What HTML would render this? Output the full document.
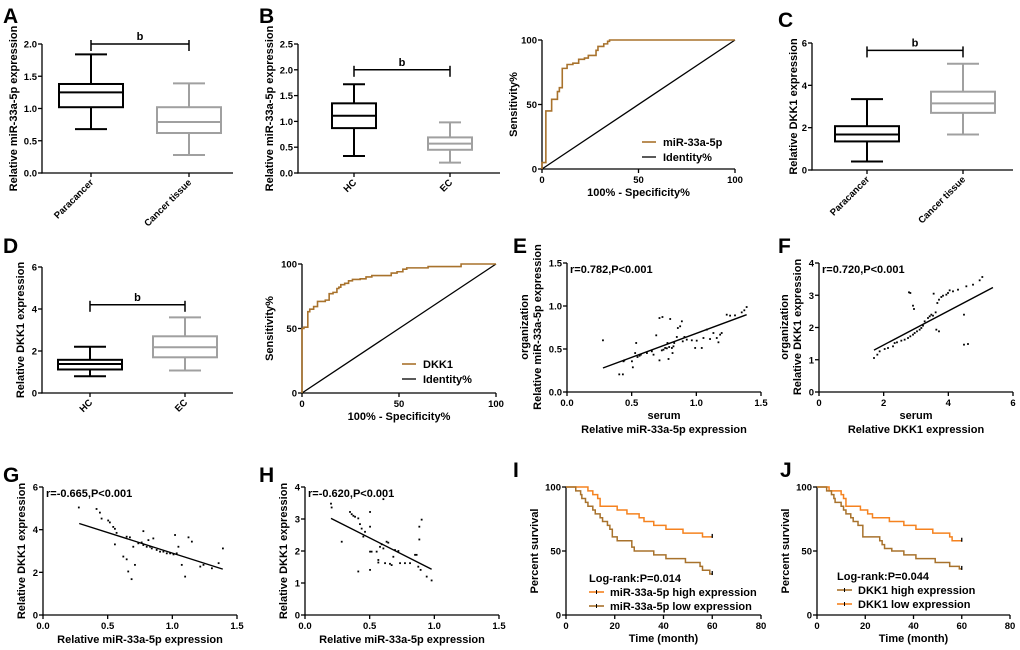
<!DOCTYPE html>
<html><head><meta charset="utf-8">
<style>
html,body{margin:0;padding:0;background:#fff;}
svg{display:block;font-family:"Liberation Sans",Arial,sans-serif;font-weight:bold;}
</style></head>
<body>
<svg id="fig" width="1020" height="650" viewBox="0 0 1020 650" xmlns="http://www.w3.org/2000/svg"></svg>
<script>
// ---------- DATA ----------
// A
const aCats = ['Paracancer','Cancer tissue'];
const aMin = [0.68, 0.28], aQ1 = [1.02, 0.62], aMed = [1.25, 0.79], aQ3 = [1.38, 1.02], aMax = [1.84, 1.39];
// B box
const bCats = ['HC','EC'];
const bMin = [0.33, 0.20], bQ1 = [0.87, 0.45], bMed = [1.11, 0.57], bQ3 = [1.35, 0.69], bMax = [1.72, 0.98];
// B ROC
const rocBX = [0,0,2,2,5,5,8,8,9,9,10.5,10.5,13,13,16,16,19,19,22,22,24,24,28,28,29,29,32,32,34,34,35,35,100];
const rocBY = [0,5,5,45,45,54,54,60,60,63,63,78,78,81,81,82,82,85,85,86,86,88,88,92,92,95,95,97,97,99,99,100,100];
// C
const cCats = ['Paracancer','Cancer tissue'];
const cMin = [0.4, 1.68], cQ1 = [1.35, 2.7], cMed = [1.68, 3.15], cQ3 = [2.07, 3.7], cMax = [3.35, 5.02];
// D
const dCats = ['HC','EC'];
const dMin = [0.8, 1.07], dQ1 = [1.12, 1.7], dMed = [1.38, 2.18], dQ3 = [1.58, 2.7], dMax = [2.2, 3.6];
// D ROC
const rocDX = [0,0,1,1,3,3,4,4,6,6,8,8,12,12,14,14,16,16,18,18,19,19,20,20,22,22,24,24,26,26,30,30,33,33,36,36,46,46,49,49,52,52,54,54,65,65,82,82,100];
const rocDY = [0,50,50,51,51,63,63,65,65,67,67,71,71,72,72,77,77,78,78,81,81,82,82,84,84,85,85,87,87,88,88,88.5,88.5,90,90,91,91,93,93,94,94,96,96,97,97,98,98,100,100];
// E scatter
const eX = [0.278,0.404,0.432,0.437,0.443,0.502,0.509,0.527,0.535,0.545,0.561,0.571,0.618,0.656,0.669,0.690,0.715,0.733,0.746,0.759,0.772,0.790,0.811,0.823,0.715,0.738,0.777,0.785,0.798,0.816,0.829,0.849,0.857,0.875,0.888,0.895,0.908,0.926,0.965,0.991,1.003,1.042,1.055,1.081,1.106,1.132,1.158,1.171,1.184,1.196,1.235,1.261,1.299,1.351,1.371,1.389];
const eY = [0.601,0.205,0.205,0.357,0.368,0.357,0.287,0.453,0.570,0.407,0.422,0.434,0.453,0.473,0.434,0.659,0.368,0.484,0.492,0.512,0.508,0.523,0.512,0.531,0.860,0.872,0.570,0.384,0.849,0.453,0.570,0.640,0.744,0.764,0.822,0.589,0.640,0.609,0.601,0.512,0.597,0.512,0.628,0.725,0.616,0.686,0.628,0.578,0.667,0.686,0.899,0.888,0.891,0.926,0.950,0.988];
const eFitX = [0.278, 1.389], eFitY = [0.279, 0.899];
// F scatter
const fX = [1.701,1.804,1.876,2.031,2.134,2.289,2.340,2.412,2.546,2.649,2.753,2.825,2.907,2.959,3.031,3.113,3.165,3.216,3.268,3.371,3.423,3.474,3.526,3.608,3.660,3.711,3.783,3.835,3.938,3.990,4.041,4.144,4.299,4.557,4.763,4.969,5.051,2.783,2.825,2.907,2.938,3.546,3.629,3.711,4.484,4.484,4.608];
const fY = [1.054,1.158,1.261,1.333,1.364,1.416,1.519,1.540,1.592,1.623,1.674,1.726,1.778,1.829,1.881,1.933,1.985,2.057,2.191,2.295,2.346,2.398,2.367,2.470,2.760,2.863,2.946,2.987,3.018,3.070,3.152,3.121,3.173,3.277,3.328,3.463,3.566,3.091,3.070,2.677,2.574,3.049,1.933,1.881,2.398,1.468,1.488];
const fFitX = [1.70, 5.38], fFitY = [1.30, 3.24];
// G scatter
const gX = [0.277,0.414,0.44,0.453,0.504,0.517,0.543,0.556,0.569,0.556,0.621,0.647,0.659,0.685,0.647,0.672,0.698,0.711,0.737,0.763,0.776,0.802,0.815,0.828,0.841,0.853,0.879,0.905,0.931,0.957,0.983,1.009,1.021,1.034,1.047,1.073,1.099,1.125,1.151,1.216,1.241,1.306,1.358,1.391,0.776];
const gY = [5.04,4.97,4.80,4.52,4.43,4.34,4.13,4.04,3.85,3.31,2.74,2.61,2.04,1.68,3.67,3.64,3.20,2.35,3.36,3.40,3.28,3.20,3.51,3.20,3.12,3.59,3.05,2.97,2.97,2.89,2.89,2.84,3.75,2.89,3.20,2.35,1.80,3.64,3.44,2.27,2.35,2.19,2.43,3.12,3.93];
const gFitX = [0.28, 1.39], gFitY = [4.29, 2.15];
// H scatter
const hX = [0.201,0.206,0.284,0.348,0.361,0.374,0.387,0.412,0.425,0.438,0.451,0.464,0.412,0.503,0.503,0.503,0.515,0.503,0.554,0.567,0.567,0.580,0.593,0.606,0.606,0.619,0.631,0.644,0.657,0.670,0.683,0.696,0.722,0.735,0.773,0.812,0.851,0.863,0.876,0.884,0.884,0.894,0.902,0.941,0.979];
const hY = [3.48,3.36,2.29,3.22,3.15,3.10,3.07,3.02,2.84,2.70,2.45,2.60,1.36,2.76,3.22,1.98,1.98,1.41,1.98,1.72,1.64,2.13,2.21,2.08,3.62,1.62,2.29,2.26,1.60,1.56,1.82,2.03,2.00,1.62,1.62,1.62,1.88,1.88,1.51,2.76,2.36,1.41,2.98,1.20,1.08];
const hFitX = [0.201, 0.979], hFitY = [3.02, 1.43];
// I survival
const iHighT = [0,9,11,13,14,21,25,30,32,36,41,48,56,60];
const iHighS = [100,97,94,91,85,82,79,76,73,70,67,64,61,61];
const iLowT = [0,4,6,6.5,8,9,11,12,14,15,17,18,19,21,27,28,36,41,49,55,56,59,60];
const iLowS = [100,97,94,91,88,85,82,79,76,73,70,67,61,58,53,50,47,44,41,38,35,32,32];
// J survival
const jLowT = [0,5,10,11,12,18,21,23,30,36,41,48,55,56,60];
const jLowS = [100,97,94,91,85,82,79,76,73,70,67,64,61,58,58];
const jHighT = [0,4,6,7,7.5,10,11,12,14,15,17,19,26,27,28,31,36,41,49,55,59,60];
const jHighS = [100,97,94,91,88,85,82,79,76,73,70,61,58,55,52,50,47,44,41,38,36,36];

// ---------- DRAW ----------
const NS = 'http://www.w3.org/2000/svg';
const svg = document.getElementById('fig');
const ORANGE = '#f5821f', BROWN = '#a8722c', GRAY = '#a0a0a0';

function mk(tag, attrs, name) {
  const el = document.createElementNS(NS, tag);
  for (const k in attrs) el.setAttribute(k, attrs[k]);
  
  
  svg.appendChild(el);
  return el;
}
function line(x1, y1, x2, y2, name, stroke, w) {
  return mk('line', {x1: x1, y1: y1, x2: x2, y2: y2, stroke: stroke || '#000', 'stroke-width': w || 1.3}, name);
}
function text(x, y, s, name, opts) {
  opts = opts || {};
  const el = mk('text', {x: x, y: y, 'font-size': opts.size || 9.5, 'text-anchor': opts.anchor || 'start', fill: '#000'}, name);
  if (opts.rot !== undefined) el.setAttribute('transform', 'rotate(' + opts.rot + ' ' + x + ' ' + y + ')');
  el.textContent = s;
  return el;
}
function axes(c) {
  const sx = v => c.px0 + (v - c.xmin) / (c.xmax - c.xmin) * (c.px1 - c.px0);
  const sy = v => c.py0 - (v - c.ymin) / (c.ymax - c.ymin) * (c.py0 - c.py1);
  line(c.px0, c.py0 + 0.6, c.px0, c.py1, c.id + '-y-axis');
  line(c.px0 - 0.6, c.py0, c.px1, c.py0, c.id + '-x-axis');
  c.yticks.forEach(function (t, i) {
    line(c.px0 - 4, sy(t), c.px0, sy(t), c.id + '-y-tick');
    text(c.px0 - 5, sy(t) + 3.5, c.ylabels[i], c.id + '-y-tick-label', {anchor: 'end'});
  });
  if (c.xticks) c.xticks.forEach(function (t, i) {
    line(sx(t), c.py0, sx(t), c.py0 + 4, c.id + '-x-tick');
    text(sx(t), c.py0 + 14, c.xlabels[i], c.id + '-x-tick-label', {anchor: 'middle'});
  });
  return {sx: sx, sy: sy};
}
function boxPanel(c, cats, mn, q1, md, q3, mx, br) {
  const ax = axes(c);
  const sy = ax.sy;
  cats.forEach(function (cat, i) {
    const cx = c.centers[i], hw = c.bw / 2, col = i === 0 ? '#000' : GRAY;
    line(cx, c.py0, cx, c.py0 + 4, c.id + '-x-tick');
    text(cx + 3, c.py0 + 10, cat, c.id + '-category-label', {anchor: 'end', rot: -45});
    line(cx, sy(mx[i]), cx, sy(q3[i]), c.id + '-whisker-upper', col, 2);
    line(cx, sy(q1[i]), cx, sy(mn[i]), c.id + '-whisker-lower', col, 2);
    line(cx - hw / 2, sy(mx[i]), cx + hw / 2, sy(mx[i]), c.id + '-whisker-cap-max', col, 2);
    line(cx - hw / 2, sy(mn[i]), cx + hw / 2, sy(mn[i]), c.id + '-whisker-cap-min', col, 2);
    mk('rect', {x: cx - hw, y: sy(q3[i]), width: c.bw, height: sy(q1[i]) - sy(q3[i]), fill: 'none', stroke: col, 'stroke-width': 2}, c.id + '-box-' + i);
    line(cx - hw, sy(md[i]), cx + hw, sy(md[i]), c.id + '-median', col, 2);
  });
  const by = sy(br);
  line(c.centers[0], by, c.centers[1], by, c.id + '-significance-bracket', '#000', 1.5);
  line(c.centers[0], by - 4, c.centers[0], by + 7, c.id + '-bracket-end', '#000', 1.5);
  line(c.centers[1], by - 4, c.centers[1], by + 7, c.id + '-bracket-end', '#000', 1.5);
  text((c.centers[0] + c.centers[1]) / 2, by - 4, 'b', c.id + '-significance-label', {anchor: 'middle', size: 11});
  text(c.titleX, (c.py0 + c.py1) / 2, c.title, c.id + '-y-axis-title', {anchor: 'middle', size: 11, rot: -90});
}
function pathFrom(xs, ys, ax, step) {
  let d = '';
  for (let i = 0; i < xs.length; i++) {
    const X = ax.sx(xs[i]), Y = ax.sy(ys[i]);
    if (i === 0) d += 'M' + X + ' ' + Y;
    else if (step) d += 'H' + X + 'V' + Y;
    else d += 'L' + X + ' ' + Y;
  }
  return d;
}
function rocPanel(c, xs, ys, label, lx, ly) {
  const ax = axes(c);
  mk('path', {d: 'M' + ax.sx(0) + ' ' + ax.sy(0) + 'L' + ax.sx(100) + ' ' + ax.sy(100), stroke: '#000', 'stroke-width': 1.3, fill: 'none'}, c.id + '-identity-line');
  mk('path', {d: pathFrom(xs, ys, ax, false), stroke: BROWN, 'stroke-width': 1.6, fill: 'none'}, c.id + '-roc-curve');
  line(lx, ly, lx + 14, ly, c.id + '-legend-swatch-roc', BROWN, 1.6);
  text(lx + 21, ly + 4, label, c.id + '-legend-label-roc', {size: 11});
  line(lx, ly + 15, lx + 14, ly + 15, c.id + '-legend-swatch-identity', '#000', 1.3);
  text(lx + 21, ly + 19, 'Identity%', c.id + '-legend-label-identity', {size: 11});
  text(c.titleX, (c.py0 + c.py1) / 2, 'Sensitivity%', c.id + '-y-axis-title', {anchor: 'middle', size: 11, rot: -90});
  text((c.px0 + c.px1) / 2, c.py0 + 27, '100% - Specificity%', c.id + '-x-axis-title', {anchor: 'middle', size: 11});
}
function scatterPanel(c, xs, ys, fx, fy, note) {
  const ax = axes(c);
  xs.forEach(function (v, i) {
    mk('rect', {x: ax.sx(v) - 0.9, y: ax.sy(ys[i]) - 0.9, width: 1.8, height: 1.8, fill: '#000'}, c.id + '-point');
  });
  line(ax.sx(fx[0]), ax.sy(fy[0]), ax.sx(fx[1]), ax.sy(fy[1]), c.id + '-regression-line', '#000', 1.4);
  text(c.px0 + 3, c.py1 + 10, note, c.id + '-correlation-note', {size: 11});
  return ax;
}
function kmPanel(c, t1, s1, col1, t2, s2, col2, labels, cols, lx, ly, lr) {
  const ax = axes(c);
  mk('path', {d: pathFrom(t1, s1, ax, true), stroke: col1, 'stroke-width': 1.5, fill: 'none'}, c.id + '-survival-upper');
  mk('path', {d: pathFrom(t2, s2, ax, true), stroke: col2, 'stroke-width': 1.5, fill: 'none'}, c.id + '-survival-lower');
  line(ax.sx(t1[t1.length - 1]), ax.sy(s1[s1.length - 1]) - 3, ax.sx(t1[t1.length - 1]), ax.sy(s1[s1.length - 1]) + 1, c.id + '-censor-mark');
  line(ax.sx(t2[t2.length - 1]), ax.sy(s2[s2.length - 1]) - 3, ax.sx(t2[t2.length - 1]), ax.sy(s2[s2.length - 1]) + 1, c.id + '-censor-mark');
  text(lx, ly, lr, c.id + '-log-rank-text', {size: 11});
  labels.forEach(function (lab, i) {
    const yy = ly + 14 + i * 14;
    line(lx, yy - 4, lx + 15, yy - 4, c.id + '-legend-swatch', cols[i], 1.6);
    line(lx + 7.5, yy - 6, lx + 7.5, yy - 2, c.id + '-legend-swatch-tick', '#000', 1);
    text(lx + 21, yy, lab, c.id + '-legend-label', {size: 11});
  });
  text(c.titleX, (c.py0 + c.py1) / 2, 'Percent survival', c.id + '-y-axis-title', {anchor: 'middle', size: 11, rot: -90});
  text((c.px0 + c.px1) / 2, c.py0 + 27, 'Time (month)', c.id + '-x-axis-title', {anchor: 'middle', size: 11});
}

// Panel A
boxPanel({id: 'a', px0: 42, px1: 233, py0: 173, py1: 44, xmin: 0, xmax: 1, ymin: 0, ymax: 2,
  yticks: [0, 0.5, 1, 1.5, 2], ylabels: ['0.0', '0.5', '1.0', '1.5', '2.0'], centers: [91, 189], bw: 64,
  titleX: 17, title: 'Relative miR-33a-5p expression'}, aCats, aMin, aQ1, aMed, aQ3, aMax, 2.0);
// Panel B box
boxPanel({id: 'b', px0: 298, px1: 500, py0: 173, py1: 44, xmin: 0, xmax: 1, ymin: 0, ymax: 2.5,
  yticks: [0, 0.5, 1, 1.5, 2, 2.5], ylabels: ['0.0', '0.5', '1.0', '1.5', '2.0', '2.5'], centers: [354, 450], bw: 44,
  titleX: 273, title: 'Relative miR-33a-5p expression'}, bCats, bMin, bQ1, bMed, bQ3, bMax, 2.0);
// Panel B ROC
rocPanel({id: 'b-roc', px0: 542, px1: 735, py0: 169, py1: 40, xmin: 0, xmax: 100, ymin: 0, ymax: 100,
  yticks: [0, 50, 100], ylabels: ['0', '50', '100'], xticks: [0, 50, 100], xlabels: ['0', '50', '100'], titleX: 517},
  rocBX, rocBY, 'miR-33a-5p', 642, 142);
// Panel C
boxPanel({id: 'c', px0: 812, px1: 1013, py0: 170, py1: 43, xmin: 0, xmax: 1, ymin: 0, ymax: 6,
  yticks: [0, 2, 4, 6], ylabels: ['0', '2', '4', '6'], centers: [867, 963], bw: 64,
  titleX: 797, title: 'Relative DKK1 expression'}, cCats, cMin, cQ1, cMed, cQ3, cMax, 5.65);
// Panel D
boxPanel({id: 'd', px0: 42, px1: 233, py0: 393, py1: 267, xmin: 0, xmax: 1, ymin: 0, ymax: 6,
  yticks: [0, 2, 4, 6], ylabels: ['0', '2', '4', '6'], centers: [90, 185], bw: 64,
  titleX: 24, title: 'Relative DKK1 expression'}, dCats, dMin, dQ1, dMed, dQ3, dMax, 4.2);
// Panel D ROC
rocPanel({id: 'd-roc', px0: 302, px1: 496, py0: 393, py1: 264, xmin: 0, xmax: 100, ymin: 0, ymax: 100,
  yticks: [0, 50, 100], ylabels: ['0', '50', '100'], xticks: [0, 50, 100], xlabels: ['0', '50', '100'], titleX: 273},
  rocDX, rocDY, 'DKK1', 402, 364);
// Panel E
scatterPanel({id: 'e', px0: 567, px1: 761, py0: 392, py1: 263, xmin: 0, xmax: 1.5, ymin: 0, ymax: 1.5,
  yticks: [0, 0.5, 1, 1.5], ylabels: ['0.0', '0.5', '1.0', '1.5'], xticks: [0, 0.5, 1, 1.5], xlabels: ['0.0', '0.5', '1.0', '1.5']},
  eX, eY, eFitX, eFitY, 'r=0.782,P<0.001');
text(528, 327, 'organization', 'e-y-axis-title-line1', {anchor: 'middle', size: 11, rot: -90});
text(541, 327, 'Relative miR-33a-5p expression', 'e-y-axis-title-line2', {anchor: 'middle', size: 11, rot: -90});
text(664, 419, 'serum', 'e-x-axis-title-line1', {anchor: 'middle', size: 11});
text(664, 433, 'Relative miR-33a-5p expression', 'e-x-axis-title-line2', {anchor: 'middle', size: 11});
// Panel F
scatterPanel({id: 'f', px0: 819, px1: 1013, py0: 392, py1: 263, xmin: 0, xmax: 6, ymin: 0, ymax: 4,
  yticks: [0, 1, 2, 3, 4], ylabels: ['0', '1', '2', '3', '4'], xticks: [0, 2, 4, 6], xlabels: ['0', '2', '4', '6']},
  fX, fY, fFitX, fFitY, 'r=0.720,P<0.001');
text(788, 327, 'organization', 'f-y-axis-title-line1', {anchor: 'middle', size: 11, rot: -90});
text(801, 327, 'Relative DKK1 expression', 'f-y-axis-title-line2', {anchor: 'middle', size: 11, rot: -90});
text(916, 419, 'serum', 'f-x-axis-title-line1', {anchor: 'middle', size: 11});
text(916, 433, 'Relative DKK1 expression', 'f-x-axis-title-line2', {anchor: 'middle', size: 11});
// Panel G
scatterPanel({id: 'g', px0: 43, px1: 237, py0: 615, py1: 487, xmin: 0, xmax: 1.5, ymin: 0, ymax: 6,
  yticks: [0, 2, 4, 6], ylabels: ['0', '2', '4', '6'], xticks: [0, 0.5, 1, 1.5], xlabels: ['0.0', '0.5', '1.0', '1.5']},
  gX, gY, gFitX, gFitY, 'r=-0.665,P<0.001');
text(25, 551, 'Relative DKK1 expression', 'g-y-axis-title', {anchor: 'middle', size: 11, rot: -90});
text(140, 643, 'Relative miR-33a-5p expression', 'g-x-axis-title', {anchor: 'middle', size: 11});
// Panel H
scatterPanel({id: 'h', px0: 305, px1: 499, py0: 615, py1: 487, xmin: 0, xmax: 1.5, ymin: 0, ymax: 4,
  yticks: [0, 1, 2, 3, 4], ylabels: ['0', '1', '2', '3', '4'], xticks: [0, 0.5, 1, 1.5], xlabels: ['0.0', '0.5', '1.0', '1.5']},
  hX, hY, hFitX, hFitY, 'r=-0.620,P<0.001');
text(287, 551, 'Relative DKK1 expression', 'h-y-axis-title', {anchor: 'middle', size: 11, rot: -90});
text(402, 643, 'Relative miR-33a-5p expression', 'h-x-axis-title', {anchor: 'middle', size: 11});
// Panel I
kmPanel({id: 'i', px0: 566, px1: 761, py0: 615, py1: 487, xmin: 0, xmax: 80, ymin: 0, ymax: 100,
  yticks: [0, 50, 100], ylabels: ['0', '50', '100'], xticks: [0, 20, 40, 60, 80], xlabels: ['0', '20', '40', '60', '80'], titleX: 538},
  iHighT, iHighS, ORANGE, iLowT, iLowS, BROWN,
  ['miR-33a-5p high expression', 'miR-33a-5p low expression'], [ORANGE, BROWN], 589, 582, 'Log-rank:P=0.014');
// Panel J
kmPanel({id: 'j', px0: 817, px1: 1010, py0: 615, py1: 487, xmin: 0, xmax: 80, ymin: 0, ymax: 100,
  yticks: [0, 50, 100], ylabels: ['0', '50', '100'], xticks: [0, 20, 40, 60, 80], xlabels: ['0', '20', '40', '60', '80'], titleX: 789},
  jLowT, jLowS, ORANGE, jHighT, jHighS, BROWN,
  ['DKK1 high expression', 'DKK1 low expression'], [BROWN, ORANGE], 837, 580, 'Log-rank:P=0.044');

// Panel letters
[['A', 3, 23], ['B', 259, 23], ['C', 778, 27], ['D', 3, 253], ['E', 513, 253], ['F', 778, 253], ['G', 3, 482], ['H', 259, 482], ['I', 513, 477], ['J', 780, 477]].forEach(function (p) {
  text(p[1], p[2], p[0], 'panel-label-' + p[0].toLowerCase(), {size: 21});
});
</script>
</body></html>
